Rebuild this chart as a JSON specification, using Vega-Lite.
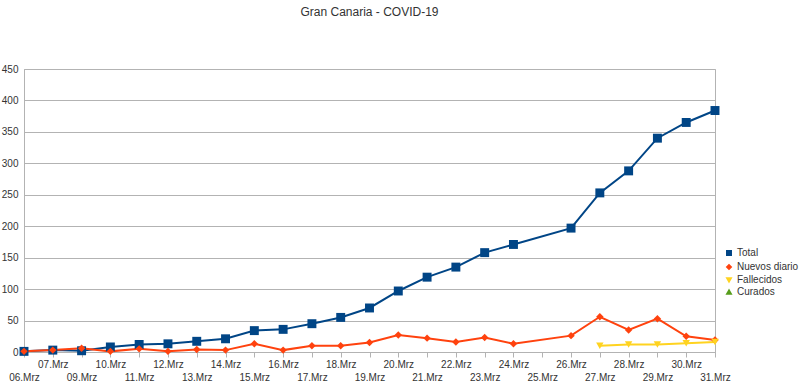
{
  "$schema": "https://vega.github.io/schema/vega-lite/v6.json",
  "width": 691,
  "height": 283,
  "autosize": {"type": "none"},
  "padding": {"left": 24, "top": 69, "right": 85, "bottom": 37},
  "background": "white",
  "title": {
    "text": "Gran Canaria - COVID-19",
    "frame": "group",
    "anchor": "middle",
    "offset": 45,
    "font": "Liberation Sans",
    "fontSize": 12,
    "fontWeight": "normal",
    "color": "#333333"
  },
  "config": {
    "font": "Liberation Sans",
    "view": {"stroke": "#b3b3b3", "strokeWidth": 1}
  },
  "data": {
    "values": [
      {"date": "06.Mrz", "series": "Total", "value": 1},
      {"date": "07.Mrz", "series": "Total", "value": 3},
      {"date": "09.Mrz", "series": "Total", "value": 2},
      {"date": "10.Mrz", "series": "Total", "value": 8},
      {"date": "11.Mrz", "series": "Total", "value": 12},
      {"date": "12.Mrz", "series": "Total", "value": 13},
      {"date": "13.Mrz", "series": "Total", "value": 17},
      {"date": "14.Mrz", "series": "Total", "value": 21},
      {"date": "15.Mrz", "series": "Total", "value": 34},
      {"date": "16.Mrz", "series": "Total", "value": 36},
      {"date": "17.Mrz", "series": "Total", "value": 45},
      {"date": "18.Mrz", "series": "Total", "value": 55},
      {"date": "19.Mrz", "series": "Total", "value": 70},
      {"date": "20.Mrz", "series": "Total", "value": 97},
      {"date": "21.Mrz", "series": "Total", "value": 119},
      {"date": "22.Mrz", "series": "Total", "value": 135},
      {"date": "23.Mrz", "series": "Total", "value": 158},
      {"date": "24.Mrz", "series": "Total", "value": 171},
      {"date": "26.Mrz", "series": "Total", "value": 197},
      {"date": "27.Mrz", "series": "Total", "value": 253},
      {"date": "28.Mrz", "series": "Total", "value": 288},
      {"date": "29.Mrz", "series": "Total", "value": 340},
      {"date": "30.Mrz", "series": "Total", "value": 365},
      {"date": "31.Mrz", "series": "Total", "value": 384},
      {"date": "06.Mrz", "series": "Nuevos diario", "value": 1},
      {"date": "07.Mrz", "series": "Nuevos diario", "value": 3},
      {"date": "09.Mrz", "series": "Nuevos diario", "value": 6},
      {"date": "10.Mrz", "series": "Nuevos diario", "value": 1},
      {"date": "11.Mrz", "series": "Nuevos diario", "value": 5},
      {"date": "12.Mrz", "series": "Nuevos diario", "value": 1},
      {"date": "13.Mrz", "series": "Nuevos diario", "value": 4},
      {"date": "14.Mrz", "series": "Nuevos diario", "value": 3},
      {"date": "15.Mrz", "series": "Nuevos diario", "value": 13},
      {"date": "16.Mrz", "series": "Nuevos diario", "value": 3},
      {"date": "17.Mrz", "series": "Nuevos diario", "value": 10},
      {"date": "18.Mrz", "series": "Nuevos diario", "value": 10},
      {"date": "19.Mrz", "series": "Nuevos diario", "value": 15},
      {"date": "20.Mrz", "series": "Nuevos diario", "value": 27},
      {"date": "21.Mrz", "series": "Nuevos diario", "value": 22},
      {"date": "22.Mrz", "series": "Nuevos diario", "value": 16},
      {"date": "23.Mrz", "series": "Nuevos diario", "value": 23},
      {"date": "24.Mrz", "series": "Nuevos diario", "value": 13},
      {"date": "26.Mrz", "series": "Nuevos diario", "value": 26},
      {"date": "27.Mrz", "series": "Nuevos diario", "value": 56},
      {"date": "28.Mrz", "series": "Nuevos diario", "value": 35},
      {"date": "29.Mrz", "series": "Nuevos diario", "value": 53},
      {"date": "30.Mrz", "series": "Nuevos diario", "value": 25},
      {"date": "31.Mrz", "series": "Nuevos diario", "value": 19},
      {"date": "27.Mrz", "series": "Fallecidos", "value": 10},
      {"date": "28.Mrz", "series": "Fallecidos", "value": 12},
      {"date": "29.Mrz", "series": "Fallecidos", "value": 12},
      {"date": "30.Mrz", "series": "Fallecidos", "value": 14},
      {"date": "31.Mrz", "series": "Fallecidos", "value": 16}
    ]
  },
  "encoding": {
    "x": {
      "field": "date",
      "type": "ordinal",
      "sort": null,
      "scale": {
        "type": "point",
        "padding": 0,
        "domain": ["06.Mrz", "07.Mrz", "09.Mrz", "10.Mrz", "11.Mrz", "12.Mrz", "13.Mrz", "14.Mrz", "15.Mrz", "16.Mrz", "17.Mrz", "18.Mrz", "19.Mrz", "20.Mrz", "21.Mrz", "22.Mrz", "23.Mrz", "24.Mrz", "25.Mrz", "26.Mrz", "27.Mrz", "28.Mrz", "29.Mrz", "30.Mrz", "31.Mrz"]
      },
      "axis": {
        "title": null,
        "labelAngle": 0,
        "labelFontSize": 10,
        "labelColor": "#333333",
        "labelPadding": 2,
        "labelLineHeight": 13,
        "labelOverlap": false,
        "labelBound": false,
        "labelFlush": false,
        "tickColor": "#b3b3b3",
        "tickSize": 5,
        "domainColor": "#b3b3b3",
        "grid": false,
        "labelExpr": "indexof(['06.Mrz','07.Mrz','09.Mrz','10.Mrz','11.Mrz','12.Mrz','13.Mrz','14.Mrz','15.Mrz','16.Mrz','17.Mrz','18.Mrz','19.Mrz','20.Mrz','21.Mrz','22.Mrz','23.Mrz','24.Mrz','25.Mrz','26.Mrz','27.Mrz','28.Mrz','29.Mrz','30.Mrz','31.Mrz'], datum.value) % 2 == 1 ? datum.label : ['', datum.label]"
      }
    },
    "y": {
      "field": "value",
      "type": "quantitative",
      "scale": {"domain": [0, 450], "nice": false},
      "axis": {
        "title": null,
        "values": [0, 50, 100, 150, 200, 250, 300, 350, 400, 450],
        "labelFontSize": 10,
        "labelColor": "#333333",
        "labelPadding": 6,
        "ticks": false,
        "gridColor": "#b3b3b3",
        "domainColor": "#b3b3b3"
      }
    },
    "color": {
      "field": "series",
      "type": "nominal",
      "scale": {
        "domain": ["Total", "Nuevos diario", "Fallecidos", "Curados"],
        "range": ["#004586", "#ff420e", "#ffd320", "#579d1c"]
      },
      "legend": {
        "title": null,
        "orient": "none",
        "legendX": 700,
        "legendY": 179,
        "labelFontSize": 10,
        "labelColor": "#333333",
        "symbolSize": 20,
        "rowPadding": 2,
        "labelOffset": 3
      }
    }
  },
  "layer": [
    {
      "mark": {"type": "line", "strokeWidth": 2},
      "encoding": {"detail": {"field": "series"}}
    },
    {
      "mark": {"type": "point", "filled": true, "opacity": 1},
      "encoding": {
        "shape": {
          "field": "series",
          "type": "nominal",
          "scale": {
            "domain": ["Total", "Nuevos diario", "Fallecidos", "Curados"],
            "range": ["square", "diamond", "triangle-down", "triangle-up"]
          },
          "legend": {
            "title": null,
            "orient": "none",
            "legendX": 700,
            "legendY": 179,
            "labelFontSize": 10,
            "labelColor": "#333333",
            "symbolSize": 20,
            "rowPadding": 2,
            "labelOffset": 3
          }
        },
        "size": {
          "condition": {"test": "datum.series === 'Total'", "value": 80},
          "value": 55
        }
      }
    }
  ]
}
